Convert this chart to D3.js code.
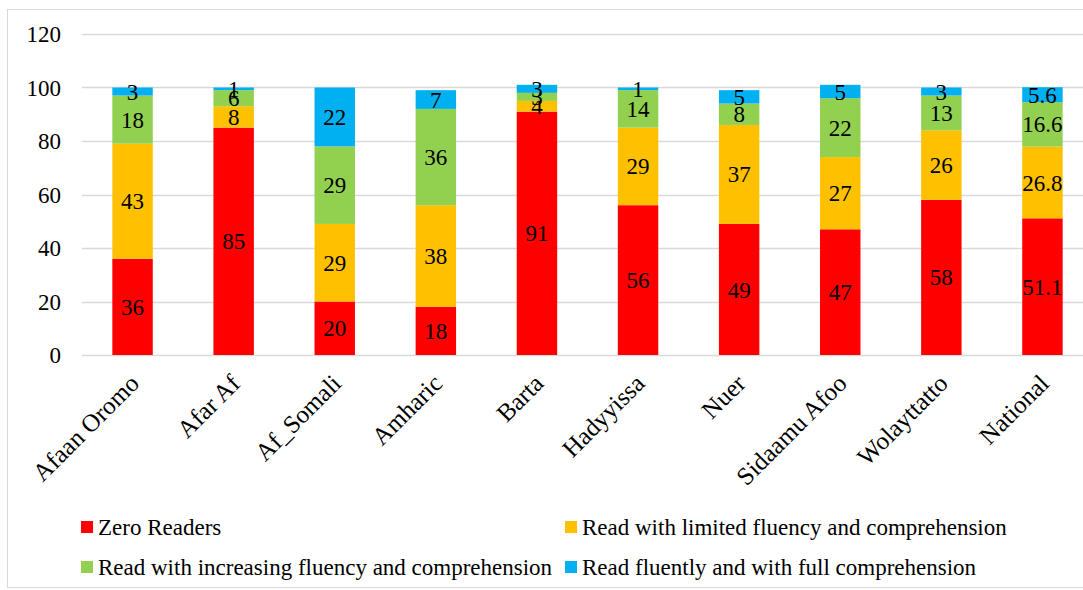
<!DOCTYPE html>
<html>
<head>
<meta charset="utf-8">
<script src="https://cdn.jsdelivr.net/npm/d3@7"></script>
<style>
  body { margin: 0; background: #fff; }
</style>
</head>
<body>
<div id="chart"></div>
<script>
// Reading levels by language (percent)
const languages = ["Afaan Oromo", "Afar Af", "Af_Somali", "Amharic", "Barta", "Hadyyissa", "Nuer", "Sidaamu Afoo", "Wolayttatto", "National"];
const zeroReaders = [36, 85, 20, 18, 91, 56, 49, 47, 58, 51.1];
const limitedFluency = [43, 8, 29, 38, 4, 29, 37, 27, 26, 26.8];
const increasingFluency = [18, 6, 29, 36, 3, 14, 8, 22, 13, 16.6];
const fullComprehension = [3, 1, 22, 7, 3, 1, 5, 5, 3, 5.6];
const seriesNames = ["Zero Readers", "Read with limited fluency and comprehension", "Read with increasing fluency and comprehension", "Read fluently and with full comprehension"];
const seriesColors = ["#ff0000", "#ffc000", "#92d050", "#00b0f0"];
const yTicks = [0, 20, 40, 60, 80, 100, 120];

const width = 1083, height = 590;
const svg = d3.select("#chart").append("svg")
  .attr("width", width)
  .attr("height", height);

// outer frame
svg.append("rect")
  .attr("x", 7.5).attr("y", 9.5)
  .attr("width", width).attr("height", 578)
  .attr("fill", "none")
  .attr("stroke", "#d9d9d9");

const x = d3.scaleBand().domain(languages).range([82, 1093]).paddingInner(0.6).paddingOuter(0.3);
const y = d3.scaleLinear().domain([0, 120]).range([355, 34]);

// gridlines
svg.append("g")
  .selectAll("line")
  .data(yTicks)
  .join("line")
  .attr("x1", 82).attr("x2", width)
  .attr("y1", d => Math.round(y(d)) + 0.5)
  .attr("y2", d => Math.round(y(d)) + 0.5)
  .attr("stroke", "#d9d9d9")
  .attr("stroke-width", 1.5);

// y tick labels
svg.append("g")
  .selectAll("text")
  .data(yTicks)
  .join("text")
  .attr("x", 61)
  .attr("y", d => y(d))
  .attr("dy", "0.35em")
  .attr("text-anchor", "end")
  .style("font-family", "Liberation Serif")
  .style("font-size", "23px")
  .text(d => d);

// stack the data
const rows = languages.map((lang, i) => ({
  lang,
  s0: zeroReaders[i], s1: limitedFluency[i], s2: increasingFluency[i], s3: fullComprehension[i]
}));
const stacked = d3.stack().keys(["s0", "s1", "s2", "s3"])(rows);

const layers = svg.append("g")
  .selectAll("g")
  .data(stacked)
  .join("g")
  .attr("fill", (d, i) => seriesColors[i]);

layers.selectAll("rect")
  .data(d => d)
  .join("rect")
  .attr("x", d => x(d.data.lang))
  .attr("width", x.bandwidth())
  .attr("y", d => y(d[1]))
  .attr("height", d => y(d[0]) - y(d[1]));

// value labels
layers.selectAll("text")
  .data(d => d.map(v => ({ v, key: d.key })))
  .join("text")
  .attr("x", d => x(d.v.data.lang) + x.bandwidth() / 2)
  .attr("y", d => y((d.v[0] + d.v[1]) / 2))
  .attr("dy", "0.35em")
  .attr("text-anchor", "middle")
  .style("font-family", "Liberation Serif")
  .style("font-size", "23px")
  .style("fill", "#000")
  .text(d => d.v.data[d.key]);

// category labels
svg.append("g")
  .selectAll("text")
  .data(languages)
  .join("text")
  .attr("transform", d => `translate(${x(d) + x.bandwidth() / 2 + 8},${385}) rotate(-45)`)
  .attr("text-anchor", "end")
  .style("font-family", "Liberation Serif")
  .style("font-size", "25px")
  .text(d => d);

// legend
const legendPos = [[81, 527], [565, 527], [81, 567], [565, 567]];
const legend = svg.append("g")
  .selectAll("g")
  .data(seriesNames)
  .join("g")
  .attr("transform", (d, i) => `translate(${legendPos[i][0]},${legendPos[i][1]})`);

legend.append("rect")
  .attr("x", 0).attr("y", -6)
  .attr("width", 12).attr("height", 12)
  .attr("fill", (d, i) => seriesColors[i]);

legend.append("text")
  .attr("x", 17)
  .attr("dy", "0.33em")
  .style("font-family", "Liberation Serif")
  .style("font-size", "23px")
  .text(d => d);
</script>
</body>
</html>
